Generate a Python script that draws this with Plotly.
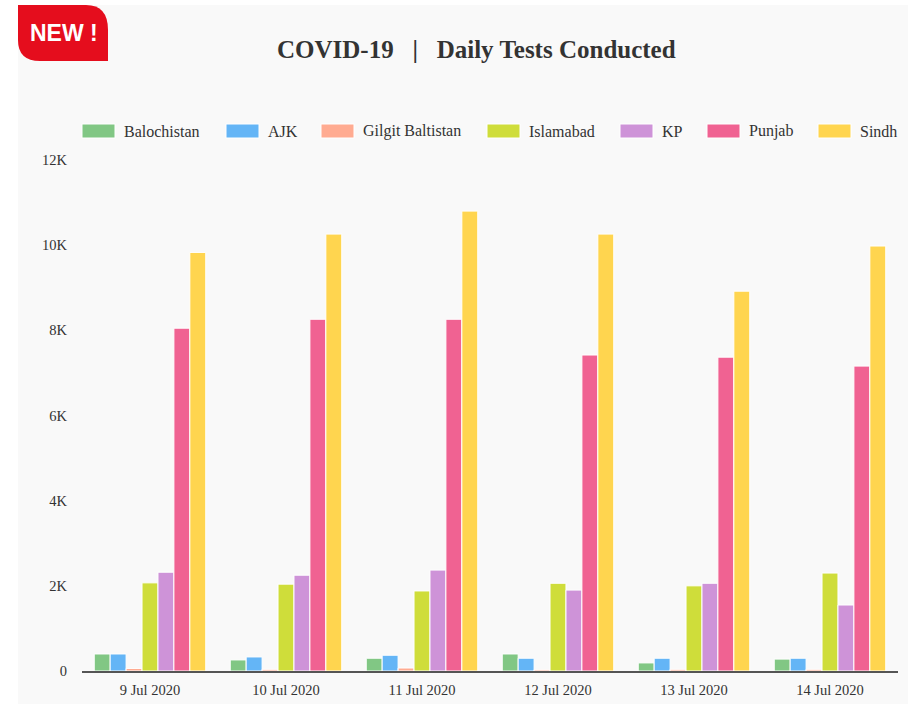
import plotly.graph_objects as go

dates = ["9 Jul 2020", "10 Jul 2020", "11 Jul 2020", "12 Jul 2020", "13 Jul 2020", "14 Jul 2020"]
balochistan = [400, 260, 300, 400, 190, 280]
ajk = [400, 330, 370, 300, 300, 300]
gilgit = [60, 40, 70, 30, 40, 40]
islamabad = [2070, 2040, 1880, 2060, 2000, 2300]
kp = [2320, 2250, 2370, 1900, 2060, 1550]
punjab = [8050, 8260, 8260, 7420, 7370, 7160]
sindh = [9830, 10260, 10800, 10260, 8920, 9980]

series_names = ["Balochistan", "AJK", "Gilgit Baltistan", "Islamabad", "KP", "Punjab", "Sindh"]
series_values = [balochistan, ajk, gilgit, islamabad, kp, punjab, sindh]
colors = ["#81c784", "#64b5f6", "#ffab91", "#cfdd3a", "#ce93d8", "#f06292", "#ffd54f"]

y_tickvals = [0, 2000, 4000, 6000, 8000, 10000, 12000]
y_ticktext = ["0", "2K", "4K", "6K", "8K", "10K", "12K"]

W, H = 909, 704
L, R, T, B = 82, 11, 160, 33
PW = W - L - R
PH = H - T - B

def px(x):
    return (x - L) / PW

def py(y):
    return (H - B - y) / PH

fig = go.Figure()
for name, vals, col in zip(series_names, series_values, colors):
    fig.add_trace(go.Bar(
        x=dates, y=vals, name=name,
        marker=dict(color=col, line=dict(color="white", width=1)),
    ))

serif = "Liberation Serif"

fig.update_layout(
    width=W, height=H,
    margin=dict(l=L, r=R, t=T, b=B),
    paper_bgcolor="white",
    plot_bgcolor="rgba(0,0,0,0)",
    barmode="group",
    bargap=0.18,
    bargroupgap=0.0,
    font=dict(family=serif, size=14, color="#333333"),
    showlegend=False,
    xaxis=dict(
        showline=True, linecolor="#555555", linewidth=1.5,
        showgrid=False, ticks="", tickfont=dict(family=serif, size=14.5, color="#333333"),
        ticklabelstandoff=5, automargin=False,
    ),
    yaxis=dict(
        range=[0, 12000], tickvals=y_tickvals, ticktext=y_ticktext,
        showgrid=False, zeroline=False, showline=False,
        tickfont=dict(family=serif, size=14.5, color="#333333"),
        ticklabelstandoff=14, automargin=False,
    ),
)

# light gray panel
fig.add_shape(type="rect", xref="paper", yref="paper",
              x0=px(18), x1=px(908), y0=py(H + 2), y1=py(5),
              fillcolor="#f9f9f9", line=dict(width=0), layer="below")

# legend (swatches + labels)
legend_x = [82, 226, 321, 487, 620, 707, 818]
for name, col, lx in zip(series_names, colors, legend_x):
    fig.add_shape(type="rect", xref="paper", yref="paper",
                  x0=px(lx), x1=px(lx + 33), y0=py(138), y1=py(124),
                  fillcolor=col, line=dict(color="white", width=1))
    fig.add_annotation(xref="paper", yref="paper", x=px(lx + 40), y=py(131),
                       text=name, showarrow=False, xanchor="left", yanchor="middle",
                       font=dict(family=serif, size=16, color="#333333"))

# NEW badge
path = (f"M {px(18)},{py(5)} L {px(86)},{py(5)} "
        f"Q {px(108)},{py(5)} {px(108)},{py(30)} "
        f"L {px(108)},{py(61)} L {px(40)},{py(61)} "
        f"Q {px(18)},{py(61)} {px(18)},{py(40)} Z")
fig.add_shape(type="path", xref="paper", yref="paper", path=path,
              fillcolor="#e50d1d", line=dict(width=0), layer="above")
fig.add_annotation(xref="paper", yref="paper", x=px(64), y=py(33),
                   text="<b>NEW !</b>", showarrow=False,
                   font=dict(family="Liberation Sans", size=23, color="white"),
                   xanchor="center", yanchor="middle")

# title
fig.add_annotation(xref="paper", yref="paper", x=px(476), y=py(50),
                   text="<b>COVID-19   |   Daily Tests Conducted</b>", showarrow=False,
                   font=dict(family=serif, size=25, color="#333333"),
                   xanchor="center", yanchor="middle")

fig.write_html("out.html", config={"displayModeBar": False},
               post_script="document.body.style.margin='0';")
